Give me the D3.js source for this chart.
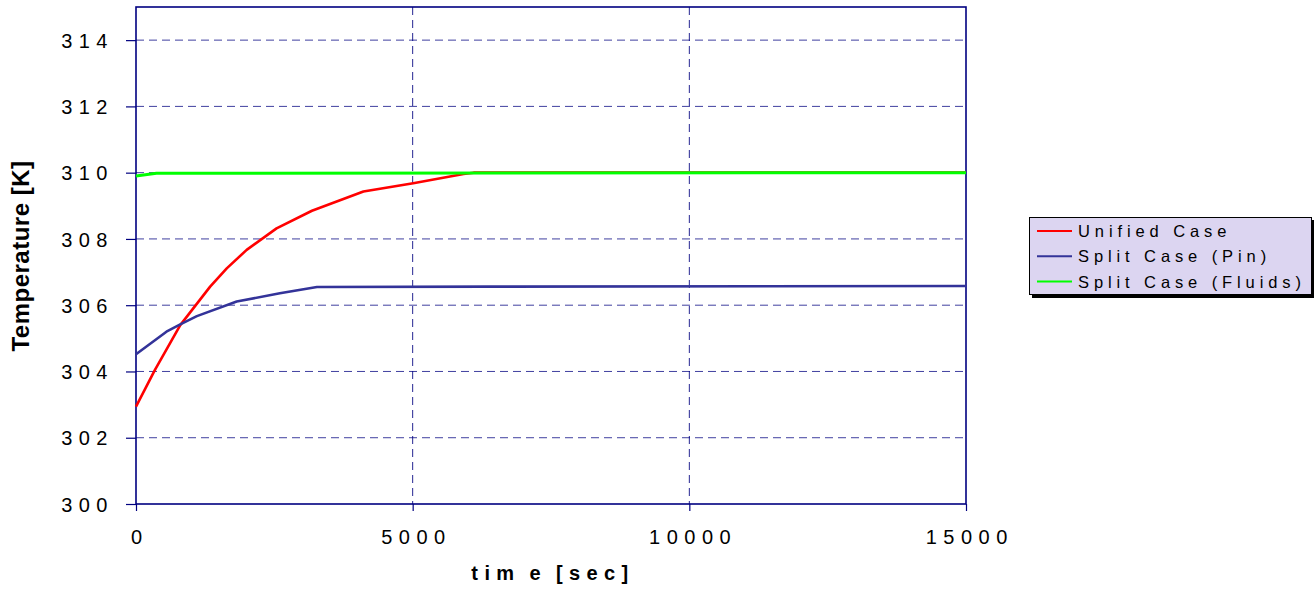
<!DOCTYPE html>
<html><head><meta charset="utf-8">
<script src="https://cdn.jsdelivr.net/npm/d3@7"></script>
<style>body{margin:0;background:#fff;}svg{display:block;font-family:Arial,"Liberation Sans",sans-serif;}</style>
</head><body>
<svg id="c" width="1314" height="592"></svg>
<script>
// Data
const seriesNames = ["Unified Case", "Split Case (Pin)", "Split Case (Fluids)"];
const seriesColors = ["#ff0000", "#333399", "#00ff00"];
const unifiedTime = [0, 340, 800, 1340, 1640, 2000, 2540, 3180, 4110, 5010, 5920, 6100, 15000];
const unifiedTemp = [302.94, 304.04, 305.40, 306.56, 307.11, 307.67, 308.32, 308.85, 309.43, 309.68, 309.96, 310.0, 310.0];
const pinTime = [0, 550, 800, 1100, 1820, 2600, 3270, 6400, 15000];
const pinTemp = [304.52, 305.20, 305.42, 305.67, 306.11, 306.36, 306.55, 306.56, 306.58];
const fluidsTime = [0, 370, 15000];
const fluidsTemp = [309.9, 309.98, 310.0];
const xTicks = [0, 5000, 10000, 15000];
const yTicks = [300, 302, 304, 306, 308, 310, 312, 314];

const svg = d3.select("#c");
const L = 136, R = 966, T = 7, B = 504;
const x = d3.scaleLinear().domain([0, 15000]).range([L, R]);
const y = d3.scaleLinear().domain([300, 315]).range([B, T]);
const navy = "#000080";

// grid
svg.append("g").selectAll("line").data(yTicks.filter(d => d > 300)).join("line")
  .attr("x1", L).attr("x2", R).attr("y1", d => y(d)).attr("y2", d => y(d))
  .attr("stroke", navy).attr("stroke-width", 1).attr("stroke-dasharray", "8,5").attr("opacity", 0.75);
svg.append("g").selectAll("line").data(xTicks.filter(d => d > 0 && d < 15000)).join("line")
  .attr("x1", d => x(d)).attr("x2", d => x(d)).attr("y1", T).attr("y2", B)
  .attr("stroke", navy).attr("stroke-width", 1).attr("stroke-dasharray", "8,5").attr("opacity", 0.85);

// frame
svg.append("rect").attr("x", L).attr("y", T).attr("width", R - L).attr("height", B - T)
  .attr("fill", "none").attr("stroke", navy).attr("stroke-width", 1.6);

// axes
const yAxis = d3.axisLeft(y).tickValues(yTicks).tickSize(10).tickPadding(0).tickFormat(d3.format("d"));
const gy = svg.append("g").attr("transform", `translate(${L},0)`).call(yAxis);
gy.select(".domain").remove();
gy.selectAll(".tick line").attr("stroke", navy).attr("stroke-width", 1.2);
gy.selectAll(".tick text").attr("x", -22).attr("dy", "0.36em")
  .attr("font-size", 20).attr("letter-spacing", "6.5px").attr("fill", "#000");

const xAxis = d3.axisBottom(x).tickValues(xTicks).tickSize(7).tickPadding(0).tickFormat(d3.format("d"));
const gx = svg.append("g").attr("transform", `translate(0,${B})`).call(xAxis);
gx.select(".domain").remove();
gx.selectAll(".tick line").attr("stroke", navy).attr("stroke-width", 1.2);
gx.selectAll(".tick text").attr("y", 40).attr("dy", 0)
  .attr("font-size", 20).attr("letter-spacing", "6.5px").attr("fill", "#000")
  .attr("text-anchor", "middle").attr("dx", "3.25px");

// axis titles
svg.append("text").attr("x", 553).attr("y", 580).attr("text-anchor", "middle")
  .attr("font-size", 20).attr("font-weight", "bold").attr("letter-spacing", "6.4px")
  .attr("word-spacing", "-3px")
  .text("tim e [sec]");
svg.append("text").attr("transform", "translate(29,256) rotate(-90)").attr("text-anchor", "middle")
  .attr("font-size", 24).attr("font-weight", "bold").attr("letter-spacing", "0.5px")
  .text("Temperature [K]");

// lines
const line = d3.line().x(d => x(d[0])).y(d => y(d[1]));
const data = [
  d3.zip(unifiedTime, unifiedTemp),
  d3.zip(pinTime, pinTemp),
  d3.zip(fluidsTime, fluidsTemp)
];
const widths = [2.6, 2.6, 3];
svg.append("g").selectAll("path").data(data).join("path")
  .attr("d", line).attr("fill", "none")
  .attr("stroke", (d, i) => seriesColors[i]).attr("stroke-width", (d, i) => widths[i])
  .attr("stroke-linejoin", "round");

// legend
const lg = svg.append("g");
lg.append("rect").attr("x", 1032).attr("y", 220).attr("width", 282).attr("height", 78).attr("fill", "#000");
lg.append("rect").attr("x", 1029.5).attr("y", 217.5).attr("width", 282).attr("height", 77)
  .attr("fill", "#dcd5f1").attr("stroke", "#000").attr("stroke-width", 1);
const items = lg.selectAll("g.it").data(seriesNames).join("g").attr("class", "it")
  .attr("transform", (d, i) => `translate(0,${231 + i * 25.3})`);
items.append("line").attr("x1", 1037).attr("x2", 1072).attr("y1", 0).attr("y2", 0)
  .attr("stroke", (d, i) => seriesColors[i]).attr("stroke-width", 2);
items.append("text").attr("x", 1078).attr("y", 0).attr("dy", "0.36em")
  .attr("font-size", 16.5).attr("letter-spacing", "4.9px").attr("fill", "#000").text(d => d);
</script>
</body></html>
